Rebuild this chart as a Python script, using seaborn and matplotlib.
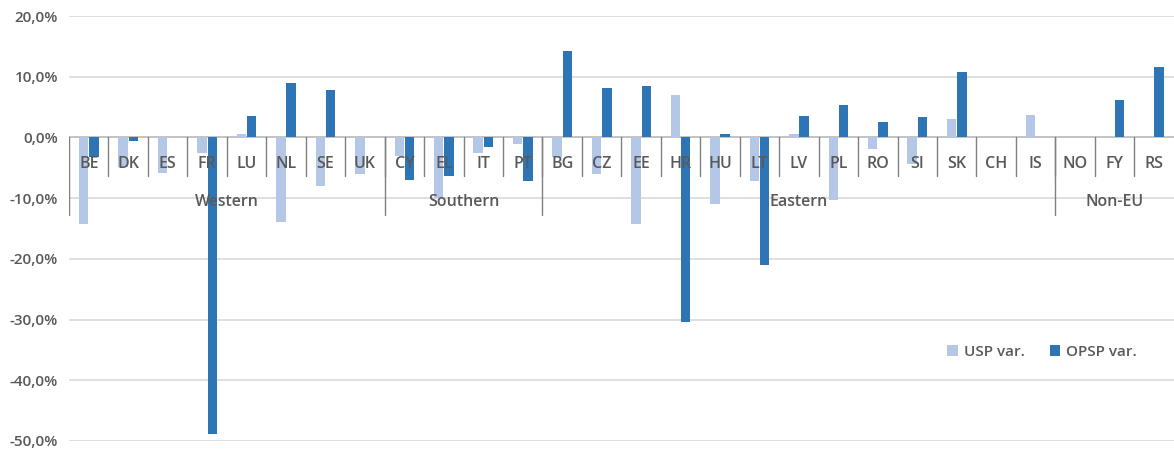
import pandas as pd
import matplotlib.pyplot as plt
import seaborn as sns
from matplotlib.ticker import FuncFormatter

# data (percent)
countries = ["BE", "DK", "ES", "FR", "LU", "NL", "SE", "UK",
             "CY", "EL", "IT", "PT",
             "BG", "CZ", "EE", "HR", "HU", "LT", "LV", "PL", "RO", "SI", "SK", "CH", "IS",
             "NO", "FY", "RS"]
usp_var = [-14.2, -4.9, -5.9, -2.6, 0.6, -13.9, -8.0, -6.0,
           -3.0, -10.0, -2.6, -1.0,
           -3.3, -6.1, -14.2, 7.0, -11.0, -7.1, 0.6, -10.3, -1.9, -4.4, 3.0, 0.0, 3.7,
           0.0, 0.0, 0.0]
opsp_var = [-3.3, -0.6, 0.0, -48.9, 3.5, 8.9, 7.8, 0.0,
            -7.0, -6.3, -1.5, -7.2,
            14.3, 8.2, 8.5, -30.4, 0.6, -21.0, 3.5, 5.3, 2.5, 3.3, 10.8, 0.0, 0.0,
            0.0, 6.2, 11.6]
groups = ["Western", "Southern", "Eastern", "Non-EU"]
group_sizes = [8, 4, 13, 3]

df = pd.DataFrame({
    "country": countries * 2,
    "value": usp_var + opsp_var,
    "series": ["USP var."] * len(countries) + ["OPSP var."] * len(countries),
})

sns.set_theme(style="white")
plt.rcParams["font.family"] = ["Open Sans", "DejaVu Sans"]
txt = "#595959"
fw = "semibold"

fig = plt.figure(figsize=(11.74, 4.51), dpi=100)
ax = fig.add_axes([0.0588, 0.0222, 0.941, 0.9423])

sns.barplot(
    data=df, x="country", y="value", hue="series",
    order=countries, hue_order=["USP var.", "OPSP var."],
    palette={"USP var.": "#B4C7E7", "OPSP var.": "#2E75B6"},
    saturation=1, linewidth=0,
    width=0.52, gap=0.08, ax=ax, zorder=3, legend=True,
)

ax.set_ylim(-50, 20)
ax.set_xlim(-0.5, len(countries) - 0.5)
ax.set_yticks(range(-50, 21, 10))
ax.yaxis.set_major_formatter(FuncFormatter(lambda v, p: f"{v:.1f}%".replace(".", ",")))
ax.tick_params(axis="y", labelsize=11, colors=txt, length=0, pad=8)
for lab in ax.get_yticklabels():
    lab.set_fontweight(fw)
ax.set_xticks([])
ax.set_xlabel("")
ax.set_ylabel("")
for s in ax.spines.values():
    s.set_visible(False)
for v in range(-50, 21, 10):
    ax.axhline(v, color="#D9D9D9", lw=1.2, zorder=1)
ax.axhline(0, color="#BFBFBF", lw=1.2, zorder=2)

# category labels and separators
for i, c in enumerate(countries):
    ax.text(i, -4.4, c, ha="center", va="center", fontsize=11.5, color=txt,
            fontweight=fw, zorder=5)
for i in range(len(countries) - 1):
    ax.plot([i + 0.5, i + 0.5], [0, -6.4], color="#808080", lw=1, zorder=4)

start = 0
bounds = [-0.5]
for g, n in zip(groups, group_sizes):
    center = start + (n - 1) / 2
    ax.text(center, -10.7, g, ha="center", va="center", fontsize=11.5, color=txt,
            fontweight=fw, zorder=5)
    start += n
    bounds.append(start - 0.5)
for b in bounds[:-1]:
    ax.plot([b, b], [0, -12.7], color="#808080", lw=1, zorder=4)

leg = ax.legend(loc="center", bbox_to_anchor=(0.881, 0.209), ncol=2, frameon=False,
                fontsize=11, handlelength=0.7, handleheight=0.7, handletextpad=0.4,
                columnspacing=1.6, labelcolor=txt)
for t in leg.get_texts():
    t.set_fontweight(fw)

fig.savefig("out.png", dpi=100)
